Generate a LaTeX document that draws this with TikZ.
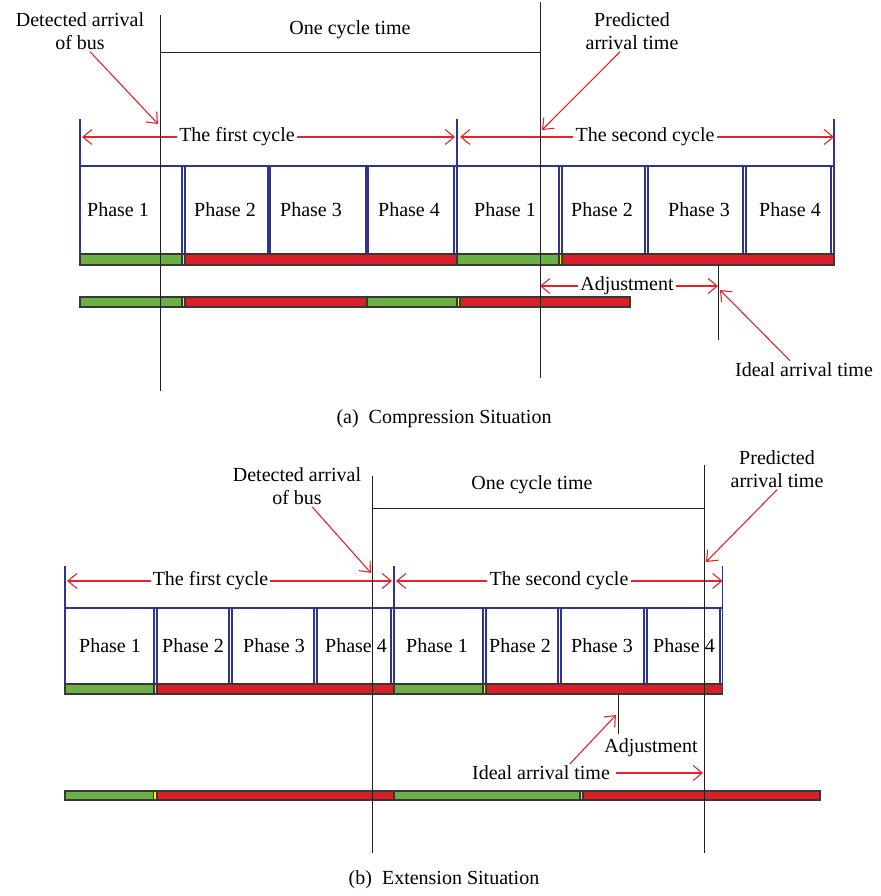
\documentclass[tikz,border=0pt]{standalone}
\usepackage{fontspec}
\setmainfont{Liberation Serif}
\usetikzlibrary{arrows.meta}

\definecolor{phaseblue}{RGB}{46,52,146}
\definecolor{sgreen}{RGB}{106,176,69}
\definecolor{sred}{RGB}{218,31,38}
\definecolor{syellow}{RGB}{255,240,0}
\definecolor{arrred}{RGB}{224,38,43}
\definecolor{inkblack}{RGB}{35,31,32}
\definecolor{bargray}{RGB}{55,55,55}

\tikzset{
	lab/.style={font=\fontsize{20}{23}\selectfont, inner sep=2pt, align=center},
	marker/.style={draw=inkblack, line width=0.9pt},
	blueline/.style={draw=phaseblue, line width=1.1pt},
	redarr/.style={draw=arrred, line width=1.1pt, -{Straight Barb[length=9pt,width=15pt]}},
	barseg/.style={draw=bargray, line width=1.2pt},
}

\begin{document}
\begin{tikzpicture}[x=1pt,y=-1pt]
	\useasboundingbox (0,0) rectangle (880,896);

	% ---------------- (a) compression
	\coordinate (aDtop) at (160,15);  \coordinate (aDbot) at (160,391);
	\coordinate (aPtop) at (540,2);   \coordinate (aPbot) at (540,378);
	\coordinate (aCl) at (160,52);    \coordinate (aCr) at (540,52);
	\draw[marker] (aDtop) -- (aDbot);
	\draw[marker] (aPtop) -- (aPbot);
	\draw[marker] (aCl) -- (aCr);
	\node[lab] (aCycle) at (350,30) {One cycle time};

	\node[lab] (aDet) at (80,31) {Detected arrival\\of bus};
	\coordinate (aDetTip) at (158,124);
	\draw[redarr] ([xshift=10pt]aDet.south) -- (aDetTip);
	\node[lab] (aPred) at (632,31) {Predicted\\arrival time};
	\coordinate (aPredTip) at (542,130);
	\draw[redarr] ([xshift=-12pt]aPred.south) -- (aPredTip);

	% cycle bounds
	\foreach\x [count=\i] in {80,457,834}{
		\draw[blueline] (\x,119) -- (\x,254);
		\coordinate (aB\i) at (\x,137);
	}
	\draw[blueline] (80,166) -- (834,166);
	\node[lab] (aFirst) at (237,137) {The first cycle};
	\node[lab] (aSecond) at (645,137) {The second cycle};
	\draw[redarr, shorten >=2pt] (aFirst) -- (aB1);
	\draw[redarr, shorten >=2pt] (aFirst) -- (aB2);
	\draw[redarr, shorten >=3pt] (aSecond) -- (aB2);
	\draw[redarr] (aSecond) -- (aB3);

	% phases
	\foreach\a/\b/\c/\t [count=\i] in{
		80/182/118/Phase 1, 185/268/225/Phase 2, 270/366/311/Phase 3, 368/454/409/Phase 4,
		457/559/505/Phase 1, 562/645/602/Phase 2, 648/743/699/Phase 3, 746/831/790/Phase 4}{
		\draw[blueline] (\a,166) rectangle (\b,254);
		\node[lab] (aPh\i) at (\c,210) {\t};
	}

	% signal bars
	\foreach\a/\b/\col in{
		80/182/sgreen, 182/185/syellow, 185/457/sred,
		457/559/sgreen, 559/562/syellow, 562/834/sred}{
		\draw[barseg, fill=\col] (\a,254) rectangle (\b,265);
	}
	\foreach\a/\b/\col in{
		80/182/sgreen, 182/185/syellow, 185/367/sred,
		367/457/sgreen, 457/460/syellow, 460/630/sred}{
		\draw[barseg, fill=\col] (\a,297) rectangle (\b,307);
	}

	% adjustment
	\coordinate (aIdTop) at (718,265); \coordinate (aIdBot) at (718,340);
	\draw[marker] (aIdTop) -- (aIdBot);
	\node[lab] (aAdj) at (627,286) {Adjustment};
	\coordinate (aAdjL) at (540,286); \coordinate (aAdjR) at (718,286);
	\draw[redarr] (aAdj) -- (aAdjL);
	\draw[redarr] (aAdj) -- (aAdjR);
	\node[lab] (aIdeal) at (804,370) {Ideal arrival time};
	\coordinate (aIdealTip) at (720,290);
	\draw[redarr] ([xshift=-14pt]aIdeal.north) -- (aIdealTip);

	\node[lab] (aCap) at (444,419) {(a)\ \ Compression Situation};

	% ---------------- (b) extension
	\coordinate (bDtop) at (372.5,476); \coordinate (bDbot) at (372.5,853);
	\coordinate (bPtop) at (704.5,465); \coordinate (bPbot) at (704.5,853);
	\coordinate (bCl) at (372.5,508);   \coordinate (bCr) at (704.5,508);
	\draw[marker] (bDtop) -- (bDbot);
	\draw[marker] (bPtop) -- (bPbot);
	\draw[marker] (bCl) -- (bCr);
	\node[lab] (bCycle) at (532,485) {One cycle time};

	\node[lab] (bDet) at (297,486) {Detected arrival\\of bus};
	\coordinate (bDetTip) at (371,573);
	\draw[redarr] ([xshift=15pt]bDet.south) -- (bDetTip);
	\node[lab] (bPred) at (777,469) {Predicted\\arrival time};
	\coordinate (bPredTip) at (706,562);
	\draw[redarr] (bPred.south) -- (bPredTip);

	\foreach\x [count=\i] in {65,394,722.5}{
		\draw[blueline] (\x,566) -- (\x,684);
		\coordinate (bB\i) at (\x,581);
	}
	\draw[blueline] (65,608) -- (722.5,608);
	\node[lab] (bFirst) at (210.5,581) {The first cycle};
	\node[lab] (bSecond) at (559,581) {The second cycle};
	\draw[redarr, shorten >=2pt] (bFirst) -- (bB1);
	\draw[redarr, shorten >=2pt] (bFirst) -- (bB2);
	\draw[redarr, shorten >=2pt] (bSecond) -- (bB2);
	\draw[redarr] (bSecond) -- (bB3);

	\foreach\a/\b/\c/\t [count=\i] in{
		65/154/110/Phase 1, 157/229/193/Phase 2, 232/314/274/Phase 3, 317/391/356/Phase 4,
		394/483/437/Phase 1, 486/558/520/Phase 2, 561/644/602/Phase 3, 647/720/684/Phase 4}{
		\draw[blueline] (\a,608) rectangle (\b,684);
		\node[lab] (bPh\i) at (\c,646) {\t};
	}

	\foreach\a/\b/\col in{
		65/154/sgreen, 154/157/syellow, 157/394/sred,
		394/483/sgreen, 483/486/syellow, 486/722.5/sred}{
		\draw[barseg, fill=\col] (\a,684) rectangle (\b,694);
	}
	\foreach\a/\b/\col in{
		65/153.5/sgreen, 153.5/157/syellow, 157/394/sred,
		394/580/sgreen, 580/583/syellow, 583/820/sred}{
		\draw[barseg, fill=\col] (\a,791) rectangle (\b,800);
	}
	% redraw marker lines over bars
	\draw[marker] (aDtop) -- (aDbot);
	\draw[marker] (aPtop) -- (aPbot);
	\draw[marker] (bDtop) -- (bDbot);
	\draw[marker] (bPtop) -- (bPbot);

	\coordinate (bIdTop) at (618.5,694); \coordinate (bIdBot) at (618.5,734);
	\draw[marker] (bIdTop) -- (bIdBot);
	\node[lab] (bAdj) at (651,748) {Adjustment};
	\node[lab] (bIdeal) at (541,773) {Ideal arrival time};
	\coordinate (bAdjTip) at (616,715);
	\coordinate (bIdealTip) at (703,773);
	\draw[redarr] ([xshift=29pt]bIdeal.north) -- (bAdjTip);
	\draw[redarr, shorten <=4pt] (bIdeal) -- (bIdealTip);

	\node[lab] (bCap) at (444,880) {(b)\ \ Extension Situation};
\end{tikzpicture}
\end{document}
